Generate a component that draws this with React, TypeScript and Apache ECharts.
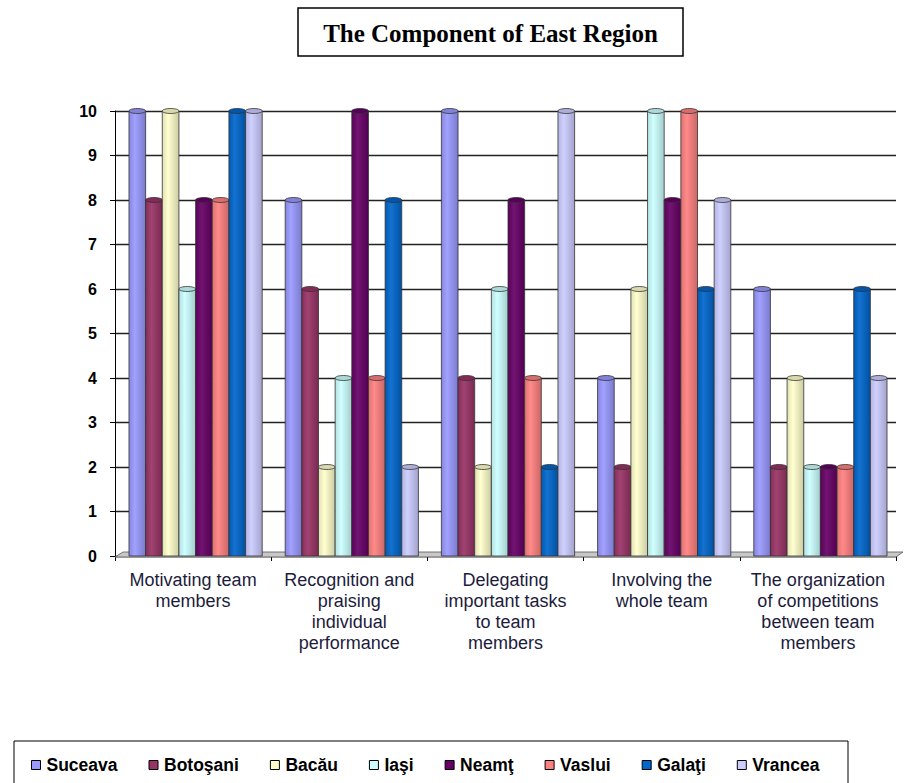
import React, { useEffect, useRef } from "react";
import * as echarts from "echarts";

// Categories (management practices) on the x axis
const categories = [
  "Motivating team\nmembers",
  "Recognition and\npraising\nindividual\nperformance",
  "Delegating\nimportant tasks\nto team\nmembers",
  "Involving the\nwhole team",
  "The organization\nof competitions\nbetween team\nmembers",
];

// Scores per county, one value per category
const suceava = [10, 8, 10, 4, 6];
const botosani = [8, 6, 4, 2, 2];
const bacau = [10, 2, 2, 6, 4];
const iasi = [6, 4, 6, 10, 2];
const neamt = [8, 10, 8, 8, 2];
const vaslui = [8, 4, 4, 10, 2];
const galati = [10, 8, 2, 6, 6];
const vrancea = [10, 2, 10, 8, 4];

const countyNames = ["Suceava", "Botoşani", "Bacău", "Iaşi", "Neamţ", "Vaslui", "Galaţi", "Vrancea"];
const countyValues = [suceava, botosani, bacau, iasi, neamt, vaslui, galati, vrancea];
const countyColors = ["#9999FF", "#993366", "#FFFFCC", "#CCFFFF", "#660066", "#FF8080", "#0066CC", "#CCCCFF"];

const yTicks = [0, 1, 2, 3, 4, 5, 6, 7, 8, 9, 10];

const GROUP_RATIO = 0.853;
const DEPTH_SHIFT = 2.5;

function shade(hex: string, amt: number): string {
  const n = parseInt(hex.slice(1), 16);
  let r = (n >> 16) & 255;
  let g = (n >> 8) & 255;
  let b = n & 255;
  const f = (c: number) =>
    Math.max(0, Math.min(255, Math.round(amt < 0 ? c * (1 + amt) : c + (255 - c) * amt)));
  r = f(r);
  g = f(g);
  b = f(b);
  return "rgb(" + r + "," + g + "," + b + ")";
}

function cylinderSeries(name: string, values: number[], color: string, idx: number, count: number) {
  return {
    name,
    type: "custom",
    itemStyle: { color },
    data: values.map((v, i) => [i, v]),
    encode: { x: 0, y: 1 },
    renderItem: (params: any, api: any) => {
      const cat = api.value(0);
      const val = api.value(1);
      const base = api.coord([cat, 0]);
      const top = api.coord([cat, val]);
      const catW = api.size([1, 0])[0];
      const groupW = catW * GROUP_RATIO;
      const w = groupW / count;
      const x = base[0] - groupW / 2 + idx * w + DEPTH_SHIFT;
      const ry = 2.5;
      return {
        type: "group",
        children: [
          {
            type: "rect",
            shape: { x, y: top[1], width: w, height: base[1] - top[1] },
            style: {
              fill: new echarts.graphic.LinearGradient(0, 0, 1, 0, [
                { offset: 0, color: shade(color, -0.12) },
                { offset: 0.35, color: shade(color, 0.08) },
                { offset: 1, color: shade(color, -0.2) },
              ]),
              stroke: "#333333",
              lineWidth: 0.8,
            },
          },
          {
            type: "ellipse",
            shape: { cx: x + w / 2, cy: top[1], rx: w / 2, ry },
            style: { fill: shade(color, -0.15), stroke: "#333333", lineWidth: 0.8 },
          },
        ],
      };
    },
  };
}

export default function App() {
  const ref = useRef<HTMLDivElement>(null);

  useEffect(() => {
    document.body.style.margin = "0";
    const chart = echarts.init(ref.current!, null, { renderer: "svg" });
    const option: any = {
      animation: false,
      backgroundColor: "#ffffff",
      graphic: [
        {
          type: "rect",
          shape: { x: 298, y: 8, width: 385, height: 48 },
          style: { fill: "#ffffff", stroke: "#000000", lineWidth: 1.5 },
          z: 10,
        },
        {
          type: "text",
          x: 490.5,
          y: 33,
          style: {
            text: "The Component of East Region",
            fontFamily: "Liberation Serif, Times New Roman, serif",
            fontWeight: "bold",
            fontSize: 25,
            fill: "#000000",
            textAlign: "center",
            textVerticalAlign: "middle",
          },
          z: 11,
        },
        {
          // grey floor of the plot
          type: "polygon",
          shape: { points: [[115, 557], [123, 552], [903, 552], [896, 557]] },
          style: { fill: "#c8c8c8", stroke: "#555555", lineWidth: 0.8 },
          z: 1,
        },
        {
          type: "rect",
          shape: { x: 14, y: 741, width: 834, height: 60 },
          style: { fill: "none", stroke: "#000000", lineWidth: 1 },
          z: 10,
        },
      ],
      legend: {
        left: 26,
        top: 751,
        itemWidth: 9,
        itemHeight: 9,
        itemGap: 31,
        icon: "rect",
        itemStyle: { borderColor: "#000000", borderWidth: 1 },
        textStyle: {
          fontFamily: "Liberation Sans, Arial, sans-serif",
          fontWeight: "bold",
          fontSize: 17.5,
          color: "#000000",
          padding: [0, 0, 0, 1],
        },
        data: countyNames,
      },
      grid: { left: 115, right: 18, top: 111, bottom: 227, containLabel: false },
      xAxis: {
        type: "category",
        data: categories,
        axisLine: { show: true, lineStyle: { color: "#000000", width: 1 } },
        axisTick: { show: true, length: 5, lineStyle: { color: "#000000" } },
        axisLabel: {
          interval: 0,
          margin: 13,
          fontFamily: "Liberation Sans, Arial, sans-serif",
          fontSize: 18,
          lineHeight: 21,
          color: "#1c1c3c",
        },
        splitLine: { show: false },
      },
      yAxis: {
        type: "value",
        min: 0,
        max: 10,
        interval: 1,
        axisLine: { show: true, lineStyle: { color: "#000000", width: 1 } },
        axisTick: { show: true, length: 5, lineStyle: { color: "#000000" } },
        axisLabel: {
          margin: 18,
          fontFamily: "Liberation Sans, Arial, sans-serif",
          fontWeight: "bold",
          fontSize: 16,
          color: "#000000",
          formatter: (v: number) => (yTicks.indexOf(v) >= 0 ? String(v) : ""),
        },
        splitLine: { show: true, lineStyle: { color: "#222222", width: 1.3 } },
      },
      series: countyNames.map((n, i) =>
        cylinderSeries(n, countyValues[i], countyColors[i], i, countyNames.length)
      ),
    };
    chart.setOption(option);
    return () => chart.dispose();
  }, []);

  return <div ref={ref} style={{ width: 914, height: 783 }} />;
}
